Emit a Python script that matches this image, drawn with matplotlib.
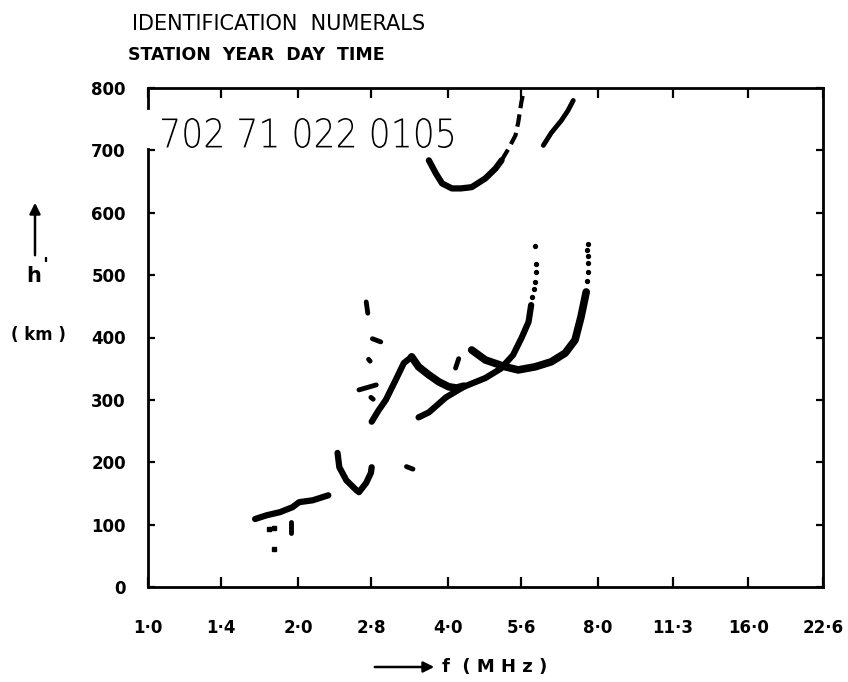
import matplotlib
matplotlib.use("Agg")
import matplotlib.pyplot as plt
from matplotlib.ticker import FixedLocator, NullLocator
from matplotlib.textpath import TextPath
from matplotlib.font_manager import FontProperties
from matplotlib.patches import PathPatch, FancyArrowPatch
from matplotlib.transforms import Affine2D

# ---------------- data (frequency in MHz, virtual height in km) ----------------
xtick_vals = [1.0, 1.4, 2.0, 2.8, 4.0, 5.6, 8.0, 11.3, 16.0, 22.6]
xtick_labels = ["1·0", "1·4", "2·0", "2·8", "4·0", "5·6", "8·0", "11·3", "16·0", "22·6"]
ytick_vals = [0, 100, 200, 300, 400, 500, 600, 700, 800]

# E layer trace
e_f = [1.64, 1.73, 1.84, 1.95, 2.01, 2.14, 2.30]
e_h = [109, 115, 120, 128, 136, 139, 147]
# stray echoes below E
stray_f = [1.75, 1.79, 1.79]
stray_h = [93, 95, 61]
stray_dash_f = [1.94, 1.94]
stray_dash_h = [87, 104]

# sporadic-E cusp
es_f = [2.40, 2.42, 2.50, 2.62, 2.65, 2.74, 2.80, 2.81]
es_h = [215, 192, 171, 155, 152, 167, 183, 192]
es_blob_f = [3.30, 3.40]
es_blob_h = [193, 189]

# spread echoes near 2.8 MHz
spr1_f = [2.74, 2.76]; spr1_h = [457, 439]
spr2_f = [2.82, 2.93]; spr2_h = [398, 393]
spr3_f = [2.77, 2.79]; spr3_h = [365, 362]
spr4_f = [2.65, 2.87]; spr4_h = [316, 324]
spr5_f = [2.80, 2.83]; spr5_h = [304, 301]

# F1 rising branch and descending branch
f1_f = [2.81, 2.90, 3.00, 3.14, 3.26, 3.38]
f1_h = [265, 283, 300, 332, 359, 369]
f2_f = [3.38, 3.49, 3.66, 3.83, 4.01, 4.16, 4.30]
f2_h = [369, 353, 340, 329, 321, 319, 322]
f2_dash_f = [4.14, 4.20]
f2_dash_h = [351, 366]

# F2 ordinary trace
fa_f = [3.49, 3.66, 3.96, 4.30, 4.75, 5.10, 5.40, 5.62, 5.80, 5.87]
fa_h = [272, 280, 304, 321, 335, 350, 372, 400, 425, 452]
fa_dot_f = [5.90, 5.95, 5.98, 6.00, 6.01, 5.98]
fa_dot_h = [465, 478, 489, 505, 518, 546]

# F2 extraordinary trace
fb_f = [4.46, 4.75, 5.21, 5.53, 5.98, 6.44, 6.87, 7.19, 7.39, 7.57]
fb_h = [380, 364, 353, 348, 353, 361, 375, 396, 433, 473]
fb_dot_f = [7.60, 7.62, 7.64, 7.62, 7.60, 7.62]
fb_dot_h = [490, 505, 520, 530, 540, 550]

# multiple-hop echoes
u1_f = [3.66, 3.78, 3.89, 4.07, 4.24, 4.46, 4.75, 4.98, 5.12]
u1_h = [684, 663, 647, 639, 639, 641, 655, 671, 684]
u1_dot_f = [5.12, 5.29, 5.46, 5.53, 5.61, 5.66]
u1_dot_h = [684, 703, 724, 745, 777, 792]
u2_f = [6.21, 6.44, 6.75, 6.96, 7.13]
u2_h = [708, 728, 748, 764, 780]

stamp = "702 71 022 0105"

# ---------------- figure ----------------
W, H = 848, 682
fig = plt.figure(figsize=(W / 100, H / 100), dpi=100)
ax = fig.add_axes([148 / W, 1 - 587 / H, (823 - 148) / W, (587 - 88) / H])
ax.set_xscale("log", base=2)
ax.set_xlim(1.0, 22.6)
ax.set_ylim(0, 800)

ax.xaxis.set_major_locator(FixedLocator(xtick_vals))
ax.xaxis.set_minor_locator(NullLocator())
ax.set_xticklabels(xtick_labels, fontsize=12, fontweight="bold")
ax.set_yticks(ytick_vals)
ax.set_yticklabels([str(v) for v in ytick_vals], fontsize=12, fontweight="bold")
ax.tick_params(axis="x", which="major", direction="in", length=7, width=1.6,
               top=True, labeltop=False, pad=23)
ax.tick_params(axis="y", direction="in", length=5, width=1.6, right=True, pad=16)

for s in ["top", "bottom", "right"]:
    ax.spines[s].set_linewidth(2.0)
ax.spines["left"].set_visible(False)
yt = ax.get_yaxis_transform()
ax.plot([0, 0], [0, 702], transform=yt, color="k", lw=2.0, clip_on=False)
ax.plot([0, 0], [768, 800], transform=yt, color="k", lw=2.0, clip_on=False)

thick = dict(color="black", lw=4.5, solid_capstyle="round", solid_joinstyle="round")
mid = dict(color="black", lw=3.5, solid_capstyle="round")

ax.plot(e_f, e_h, **thick)
ax.plot(stray_f, stray_h, "s", color="black", ms=2.5, lw=0)
ax.plot(stray_dash_f, stray_dash_h, **mid)
ax.plot(es_f, es_h, **thick)
ax.plot(es_blob_f, es_blob_h, **mid)
for ff, hh in [(spr1_f, spr1_h), (spr2_f, spr2_h), (spr3_f, spr3_h),
               (spr4_f, spr4_h), (spr5_f, spr5_h)]:
    ax.plot(ff, hh, **mid)
ax.plot(f1_f, f1_h, **thick)
ax.plot(f2_f, f2_h, color="black", lw=5.5, solid_capstyle="round")
ax.plot(f2_dash_f, f2_dash_h, **mid)
ax.plot(fa_f, fa_h, **thick)
ax.plot(fa_dot_f, fa_dot_h, "o", color="black", ms=2.8, lw=0)
ax.plot(fb_f, fb_h, color="black", lw=5.5, solid_capstyle="round")
ax.plot(fb_dot_f, fb_dot_h, "o", color="black", ms=2.8, lw=0)
ax.plot(u1_f, u1_h, **thick)
ax.plot(u1_dot_f, u1_dot_h, color="black", lw=3.0, ls=(0, (3, 1.5)))
ax.plot(u2_f, u2_h, **mid)

# identification stamp (narrow, thin digits) drawn as scaled text path
tp = TextPath((0, 0), stamp, size=40,
              prop=FontProperties(family="DejaVu Sans", weight="light"))
bb = tp.get_extents()
x0_px, x1_px, ytop_px, ybot_px = 162, 453, 118, 148
sx = (x1_px - x0_px) / bb.width
sy = (ybot_px - ytop_px) / bb.height
tr = (Affine2D().translate(-bb.x0, -bb.y0).scale(sx, sy)
      .translate(x0_px, H - ybot_px))
fig.add_artist(PathPatch(tp, transform=tr, facecolor="black", edgecolor="none"))

# titles
fig.text(132 / W, 1 - 24 / H, "IDENTIFICATION  NUMERALS", ha="left", va="center",
         fontsize=15)
fig.text(128 / W, 1 - 55 / H, "STATION  YEAR  DAY  TIME", ha="left", va="center",
         fontsize=12.5, fontweight="bold")

# y label
fig.add_artist(FancyArrowPatch(
    (35 / W, 1 - 258 / H), (35 / W, 1 - 200 / H), transform=fig.transFigure,
    arrowstyle="-|>", mutation_scale=16, lw=1.8, color="black"))
fig.text(34 / W, 1 - 276 / H, "h", ha="center", va="center", fontsize=15,
         fontweight="bold")
fig.text(45 / W, 1 - 266 / H, "'", ha="center", va="center", fontsize=14,
         fontweight="bold")
fig.text(38 / W, 1 - 335 / H, "( km )", ha="center", va="center", fontsize=12,
         fontweight="bold")

# x label
fig.add_artist(FancyArrowPatch(
    (372 / W, 1 - 667 / H), (437 / W, 1 - 667 / H), transform=fig.transFigure,
    arrowstyle="-|>", mutation_scale=16, lw=1.8, color="black"))
fig.text(442 / W, 1 - 667 / H, "f  ( M H z )", ha="left", va="center",
         fontsize=13, fontweight="bold")

fig.savefig("out.png", dpi=100)
